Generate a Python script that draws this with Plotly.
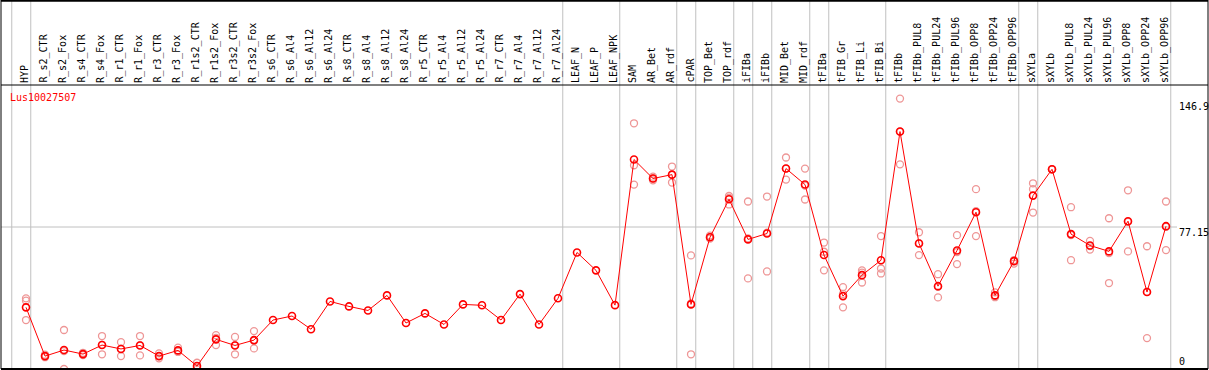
import plotly.graph_objects as go

categories = ["HYP", "R_s2_CTR", "R_s2_Fox", "R_s4_CTR", "R_s4_Fox", "R_r1_CTR", "R_r1_Fox",
              "R_r3_CTR", "R_r3_Fox", "R_r1s2_CTR", "R_r1s2_Fox", "R_r3s2_CTR", "R_r3s2_Fox",
              "R_s6_CTR", "R_s6_Al4", "R_s6_Al12", "R_s6_Al24", "R_s8_CTR", "R_s8_Al4", "R_s8_Al12",
              "R_s8_Al24", "R_r5_CTR", "R_r5_Al4", "R_r5_Al12", "R_r5_Al24", "R_r7_CTR", "R_r7_Al4",
              "R_r7_Al12", "R_r7_Al24", "LEAF_N", "LEAF_P", "LEAF_NPK", "SAM", "AR_Bet", "AR_rdf",
              "cPAR", "TOP_Bet", "TOP_rdf", "iFIBa", "iFIBb", "MID_Bet", "MID_rdf", "tFIBa",
              "tFIB_Gr", "tFIB_Li", "tFIB_Bi", "tFIBb", "tFIBb_PUL8", "tFIBb_PUL24", "tFIBb_PUL96",
              "tFIBb_OPP8", "tFIBb_OPP24", "tFIBb_OPP96", "sXYLa", "sXYLb", "sXYLb_PUL8",
              "sXYLb_PUL24", "sXYLb_PUL96", "sXYLb_OPP8", "sXYLb_OPP24", "sXYLb_OPP96"]

means = [33.5, 7.0, 10.3, 8.1, 13.0, 10.9, 12.8, 7.0, 10.1, 1.6, 16.1, 12.8, 15.7,
         26.6, 28.8, 21.6, 36.7, 34.0, 31.8, 40.0, 25.0, 30.2, 24.2, 35.1, 34.6, 26.6, 40.7,
         24.2, 38.4, 63.3, 53.6, 34.7, 113.8, 103.5, 105.6, 35.1, 71.6, 92.2, 70.4, 73.6,
         108.9, 100.2, 61.9, 39.6, 51.0, 59.1, 129.0, 68.2, 45.0, 64.4, 85.2, 40.0, 58.6,
         94.2, 108.5, 73.3, 67.1, 63.9, 80.3, 41.8, 77.6]

replicates = [
    [38.4, 37.1, 26.6], [7.8, 6.4, 7.0], [21.2, 0.0, 9.7], [8.8, 7.6, 8.0], [17.9, 8.0, 13.1],
    [14.6, 7.0, 11.0], [17.9, 7.4, 13.0], [8.5, 5.8, 7.0], [11.6, 9.4, 9.4], [3.4, 0.7, 0.7],
    [18.4, 13.0, 16.9], [17.4, 8.0, 13.0], [20.6, 11.2, 15.3],
    [], [], [], [], [], [], [], [], [], [], [], [], [], [], [], [], [], [], [],
    [133.5, 110.7, 100.2], [104.5, 102.5, 103.5], [110.0, 101.3, 105.5], [61.7, 8.0, 35.6],
    [72.5, 70.8, 71.6], [94.0, 89.4, 93.0], [91.0, 49.2, 71.0], [93.7, 53.0, 74.1],
    [114.9, 102.9, 108.9], [108.9, 92.1, 99.6], [68.7, 63.7, 53.6], [44.5, 33.5, 40.8],
    [53.6, 47.0, 52.4], [72.2, 54.6, 51.9], [146.9, 111.2, 128.9], [74.3, 61.9, 68.4],
    [51.5, 38.9, 44.7], [72.7, 57.0, 63.5], [97.7, 72.2, 85.7], [41.6, 39.6, 39.0],
    [57.3, 58.6, 59.2], [100.9, 97.7, 85.0], [108.5, 108.5, 108.5], [87.9, 59.1, 72.8],
    [69.6, 64.9, 66.8], [81.9, 46.7, 63.0], [97.1, 63.9, 79.9], [66.7, 16.8, 41.9],
    [91.0, 64.6, 77.2]]

group_breaks = [-1, 0, 28, 31, 34, 35, 37, 38, 39, 41, 42, 45, 52, 53, 60]
scale_labels = ["146.9", "77.15", "0"]
scale_values = [146.9, 77.15, 0]
gene_name = "Lus10027507"

# geometry
W, H = 1209, 370
PL, PR, PT, PB = 1, 1208, 85, 369
ph = PB - PT
pw = PR - PL
x0_px, dx_px = 26, 19
xr = [(PL - x0_px) / dx_px, (PR - x0_px) / dx_px]
ymax = 154.3

def py2paper(py):
    return (PB - py) / ph

def px2paper(px):
    return (px - PL) / pw

font = "DejaVu Sans Mono"
xs = list(range(len(categories)))

rx, ry = [], []
for i, reps in enumerate(replicates):
    for v in reps:
        rx.append(i)
        ry.append(v)

fig = go.Figure()
fig.add_trace(go.Scatter(x=rx, y=ry, mode="markers",
                         marker=dict(symbol="circle-open", size=7, color="rgb(238,150,150)",
                                     line=dict(width=1.3, color="rgb(238,150,150)")),
                         hoverinfo="skip"))
fig.add_trace(go.Scatter(x=xs, y=means, mode="lines+markers",
                         line=dict(color="#ff0000", width=1),
                         marker=dict(symbol="circle-open", size=7, color="#ff0000",
                                     line=dict(width=1.6, color="#ff0000"))))

shapes = []
top_paper = py2paper(0)
for b in group_breaks:
    shapes.append(dict(type="line", xref="x", yref="paper", x0=b + 0.25, x1=b + 0.25,
                       y0=0, y1=top_paper, line=dict(color="#c0c0c0", width=1), layer="below"))
shapes.append(dict(type="line", xref="paper", yref="y", x0=0, x1=px2paper(1177),
                   y0=scale_values[1], y1=scale_values[1],
                   line=dict(color="#c0c0c0", width=1), layer="below"))
# frame
blk = dict(color="black", width=1)
shapes += [
    dict(type="line", xref="paper", yref="paper", x0=0, x1=1, y0=0, y1=0, line=dict(color="black", width=2)),
    dict(type="line", xref="paper", yref="paper", x0=0, x1=1, y0=1, y1=1, line=blk),
    dict(type="line", xref="paper", yref="paper", x0=0, x1=1, y0=py2paper(0.8), y1=py2paper(0.8), line=dict(color="black", width=2)),
    dict(type="line", xref="paper", yref="paper", x0=0, x1=0, y0=0, y1=top_paper, line=blk),
    dict(type="line", xref="paper", yref="paper", x0=1, x1=1, y0=0, y1=top_paper, line=blk),
]

annotations = []
for i, c in enumerate(categories):
    annotations.append(dict(x=i, y=py2paper(84), xref="x", yref="paper", text=c,
                            textangle=-90, showarrow=False, xanchor="center", yanchor="bottom",
                            xshift=-1, font=dict(family=font, size=10, color="black"),
                            borderpad=0))
annotations.append(dict(x=px2paper(9), y=py2paper(97), xref="paper", yref="paper", text=gene_name,
                        showarrow=False, xanchor="left", yanchor="middle", borderpad=0,
                        font=dict(family=font, size=10, color="#ff0000")))
label_py = [106.5, 232, 361.5]
for lab, lpy in zip(scale_labels, label_py):
    annotations.append(dict(x=px2paper(1178), y=py2paper(lpy), xref="paper", yref="paper", text=lab,
                            showarrow=False, xanchor="left", yanchor="middle", borderpad=0,
                            font=dict(family=font, size=10, color="black")))

fig.update_layout(
    width=W, height=H,
    margin=dict(l=PL, r=W - PR, t=PT, b=H - PB, pad=0),
    paper_bgcolor="white", plot_bgcolor="white",
    showlegend=False,
    xaxis=dict(range=xr, visible=False, fixedrange=True),
    yaxis=dict(range=[0, ymax], visible=False, fixedrange=True),
    shapes=shapes, annotations=annotations,
)
fig.write_html("out.html", config={"displayModeBar": False},
               post_script="document.body.style.margin='0';document.body.style.padding='0';"
                           "document.documentElement.style.overflow='hidden';")
